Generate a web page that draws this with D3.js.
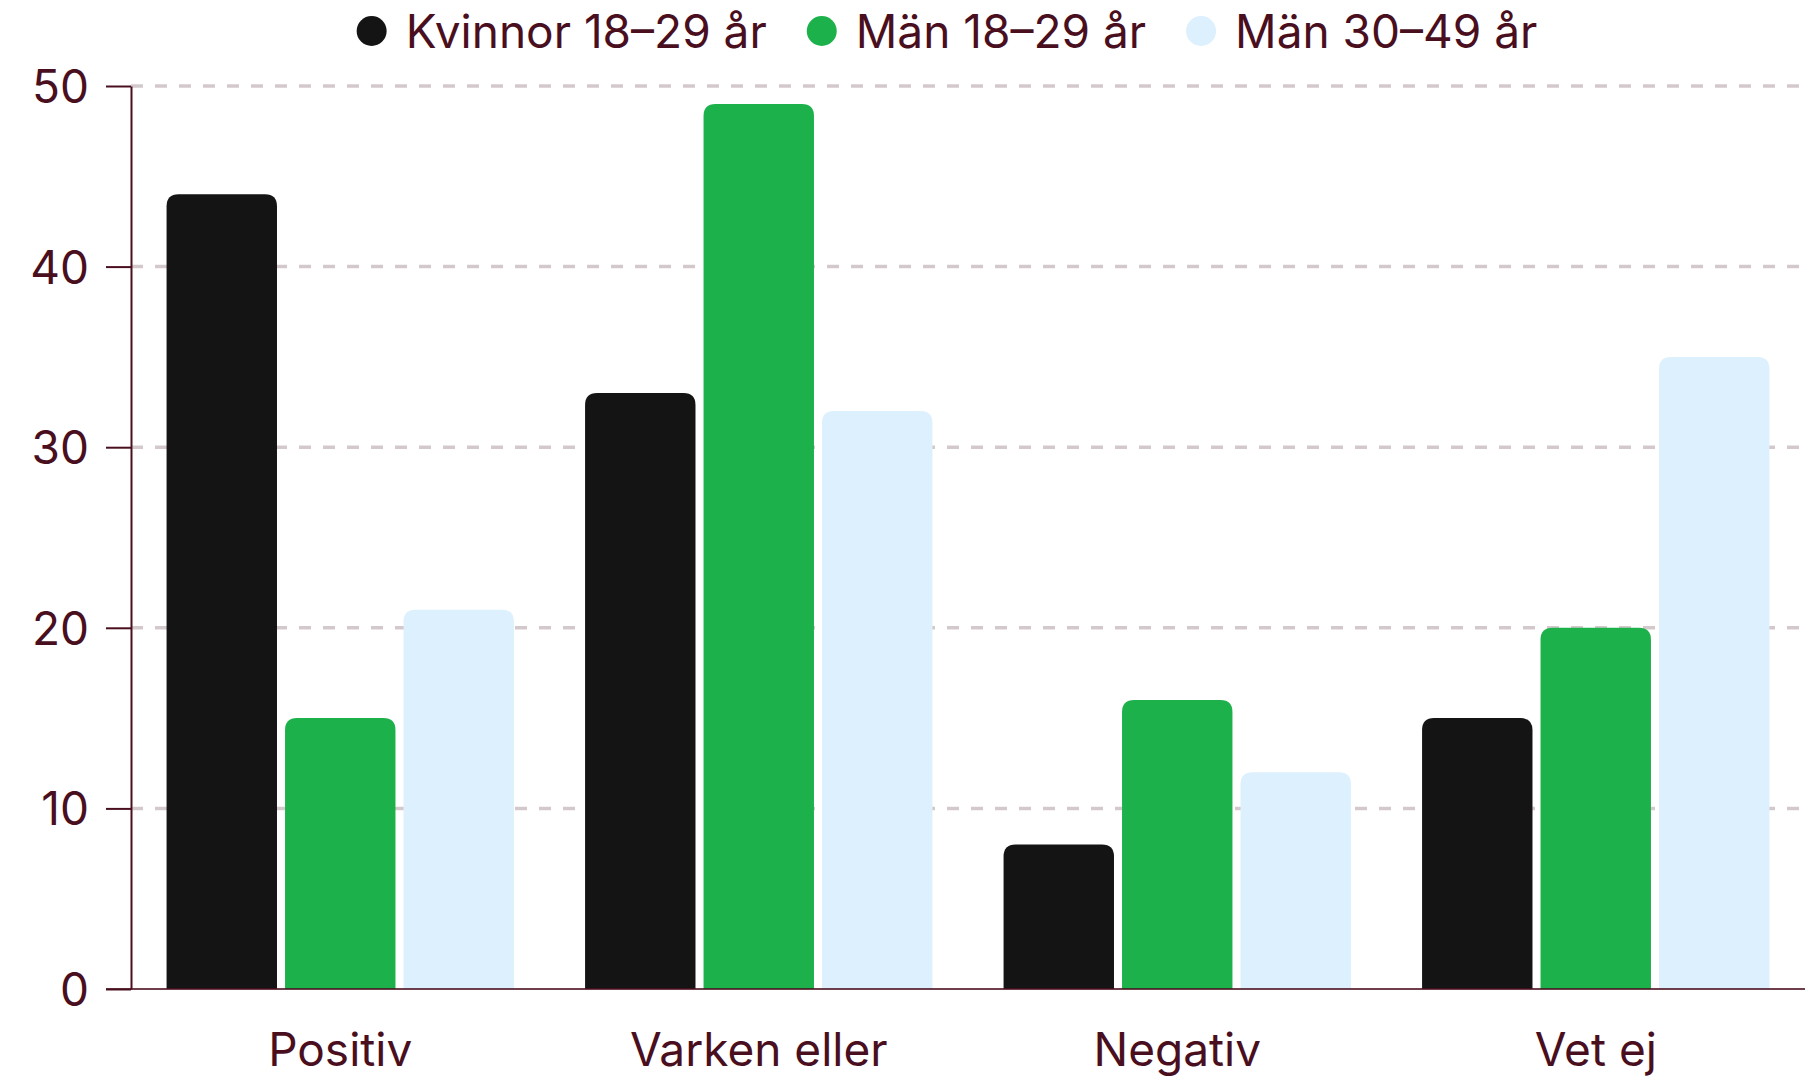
<!DOCTYPE html>
<html>
<head>
<meta charset="utf-8">
<script src="https://cdn.jsdelivr.net/npm/d3@7"></script>
<style>
  html, body { margin: 0; padding: 0; background: #fff; }
  svg { display: block; font-family: Inter, "Noto Sans", sans-serif; }
</style>
</head>
<body>
<svg id="chart"></svg>
<script>
const categories = ["Positiv", "Varken eller", "Negativ", "Vet ej"];
const seriesNames = ["Kvinnor 18–29 år", "Män 18–29 år", "Män 30–49 år"];
const seriesColors = ["#141414", "#1db14b", "#dcf0fd"];
const kvinnor1829 = [44, 33, 8, 15];
const man1829 = [15, 49, 16, 20];
const man3049 = [21, 32, 12, 35];
const yTicks = [0, 10, 20, 30, 40, 50];

const width = 1814, height = 1081;
const margin = { top: 86, right: 9, bottom: 92, left: 131 };
const textColor = "#4a0f1e";

const values = [kvinnor1829, man1829, man3049];
const data = categories.map((c, i) => ({
  cat: c,
  vals: seriesNames.map((s, j) => ({ key: s, value: values[j][i], color: seriesColors[j] }))
}));

const svg = d3.select("#chart")
  .attr("width", width)
  .attr("height", height)
  .attr("viewBox", [0, 0, width, height]);

const x = d3.scaleBand()
  .domain(categories)
  .range([margin.left, width - margin.right])
  .paddingInner(0.17)
  .paddingOuter(0.085);

const xInner = d3.scaleBand()
  .domain(seriesNames)
  .range([0, x.bandwidth()])
  .paddingInner(0.068);

const y = d3.scaleLinear()
  .domain([0, 50])
  .range([height - margin.bottom, margin.top]);

// grid lines
svg.append("g")
  .selectAll("line")
  .data(yTicks.filter(d => d > 0))
  .join("line")
  .attr("x1", margin.left)
  .attr("x2", width - margin.right)
  .attr("y1", d => y(d))
  .attr("y2", d => y(d))
  .attr("stroke", "#d3c9cd")
  .attr("stroke-width", 3.5)
  .attr("stroke-dasharray", "12,12");

// bars with rounded top corners
const r = 12;
function topRounded(x0, y0, w, h) {
  const rr = Math.min(r, h, w / 2);
  return `M${x0},${y0 + h}V${y0 + rr}Q${x0},${y0} ${x0 + rr},${y0}H${x0 + w - rr}Q${x0 + w},${y0} ${x0 + w},${y0 + rr}V${y0 + h}Z`;
}

svg.append("g")
  .selectAll("g")
  .data(data)
  .join("g")
  .attr("transform", d => `translate(${x(d.cat)},0)`)
  .selectAll("path")
  .data(d => d.vals)
  .join("path")
  .attr("fill", d => d.color)
  .attr("d", d => topRounded(xInner(d.key), y(d.value), xInner.bandwidth(), y(0) - y(d.value)));

// y axis
const yAxis = svg.append("g")
  .attr("transform", `translate(${margin.left},0)`)
  .call(d3.axisLeft(y).tickValues(yTicks).tickSize(25).tickPadding(17).tickSizeOuter(0));
yAxis.select(".domain").attr("stroke", textColor).attr("stroke-width", 2);
yAxis.selectAll(".tick line").attr("stroke", textColor).attr("stroke-width", 2);
yAxis.selectAll(".tick text")
  .attr("fill", textColor)
  .attr("font-size", 46)
  .attr("font-family", "Inter, sans-serif")
  .attr("dy", "0.36em");

// x axis
const xAxis = svg.append("g")
  .attr("transform", `translate(0,${y(0)})`)
  .call(d3.axisBottom(x).tickSize(0).tickPadding(44));
xAxis.select(".domain")
  .attr("d", `M${margin.left - 25},0H${width - margin.right}`)
  .attr("stroke", textColor)
  .attr("stroke-opacity", 0.8)
  .attr("stroke-width", 2);
xAxis.selectAll(".tick text")
  .attr("fill", textColor)
  .attr("font-size", 46)
  .attr("font-family", "Inter, sans-serif");

// legend
const legend = svg.append("g").attr("transform", "translate(0,31)");
const items = legend.selectAll("g")
  .data(seriesNames.map((s, i) => ({ name: s, color: seriesColors[i] })))
  .join("g");
items.append("circle")
  .attr("r", 15)
  .attr("cx", 0)
  .attr("fill", d => d.color);
items.append("text")
  .attr("x", 34)
  .attr("dy", "0.36em")
  .attr("fill", textColor)
  .attr("font-size", 46)
  .text(d => d.name);

let pos = 0;
const offsets = [];
items.each(function() {
  const tw = d3.select(this).select("text").node().getComputedTextLength();
  offsets.push(pos);
  pos += 15 + 34 + tw + 40;
});
const total = pos - 40;
const startX = 947 - total / 2 + 15;
items.attr("transform", (d, i) => `translate(${startX + offsets[i]},0)`);
</script>
</body>
</html>
